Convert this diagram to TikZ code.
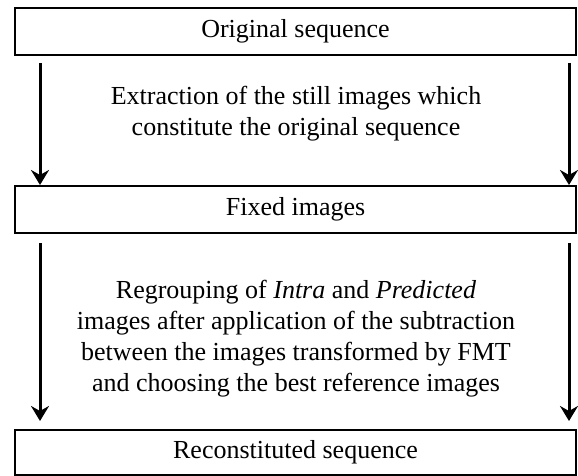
\documentclass[tikz,border=0pt]{standalone}
\usepackage{fontspec}
\setmainfont{Liberation Serif}
\usetikzlibrary{arrows.meta,calc}
\begin{document}
\begin{tikzpicture}[x=1pt,y=-1pt,
  box/.style={draw, line width=2pt, minimum width=561pt, inner sep=0pt, font=\fontsize{26}{30}\selectfont},
  txt/.style={align=center, inner sep=0pt, font=\fontsize{26}{31}\selectfont},
  arr/.style={line width=3pt, -{Stealth[length=15pt,width=18pt,inset=5pt]}}]
\useasboundingbox (0,0) rectangle (578,476);
\coordinate (lx) at (40,0);
\coordinate (rx) at (569,0);
\node[box, minimum height=47pt] (orig) at (295.5,31.5) {Original sequence};
\node[box, minimum height=47pt] (fixed) at (295.5,209.5) {Fixed images};
\node[box, minimum height=45pt] (recon) at (295.5,452.5) {Reconstituted sequence};
\node[txt] (t1) at (296,114) {Extraction of the still images which\\constitute the original sequence};
\node[txt] (t2) at (296,339) {Regrouping of \textit{Intra} and \textit{Predicted}\\images after application of the subtraction\\between the images transformed by FMT\\and choosing the best reference images};
\draw[arr] ($(orig.south -| lx)+(0,7)$) -- (fixed.north -| lx);
\draw[arr] ($(orig.south -| rx)+(0,7)$) -- (fixed.north -| rx);
\draw[arr] ($(fixed.south -| lx)+(0,9)$) -- ($(recon.north -| lx)+(0,-8)$);
\draw[arr] ($(fixed.south -| rx)+(0,9)$) -- ($(recon.north -| rx)+(0,-8)$);
\end{tikzpicture}
\end{document}
